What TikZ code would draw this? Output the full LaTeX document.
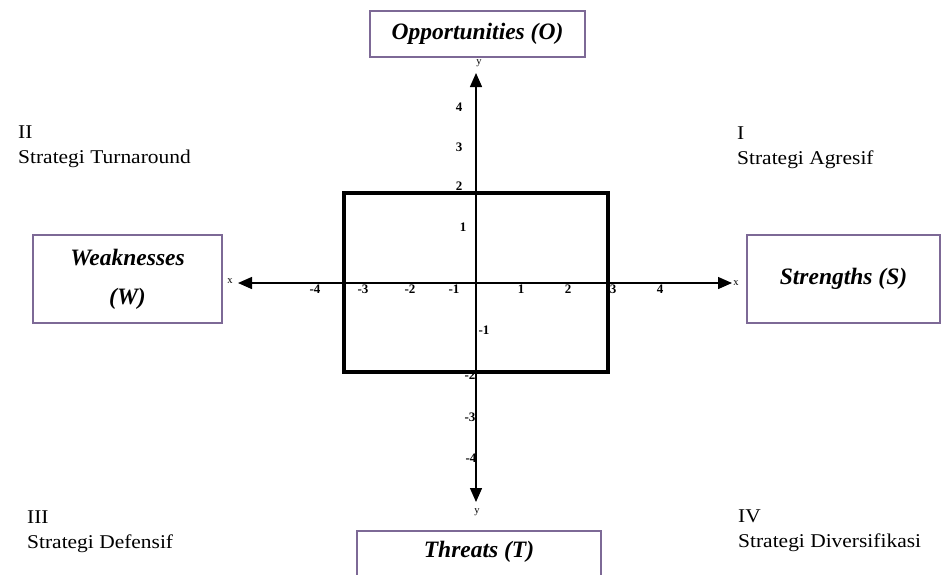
\documentclass[tikz,border=0pt]{standalone}
\usepackage{fontspec}
\setmainfont{Liberation Serif}
\newfontfamily\quadfont[FakeStretch=1.1]{Liberation Serif}
\usetikzlibrary{arrows.meta}
\definecolor{boxline}{RGB}{125,105,150}

\begin{document}
\begin{tikzpicture}[x=1pt,y=-1pt,>={Triangle[length=14pt,width=12pt]},
  factor/.style={draw=boxline,line width=2.2pt,inner sep=0pt,align=center,
    font=\fontsize{23.5}{27}\selectfont\bfseries\itshape},
  quad/.style={anchor=north west,inner sep=0pt,align=left,
    font=\fontsize{19.5}{25}\selectfont\quadfont},
  tick/.style={inner sep=0pt,font=\fontsize{13}{14}\selectfont\bfseries},
  axlabel/.style={inner sep=0pt,font=\fontsize{10.5}{11}\selectfont},
  axis/.style={line width=1.4pt}]
  \useasboundingbox (0,0) rectangle (941,574);
  \clip (0,0) rectangle (941,574);
  % axes
  \coordinate (xl) at (238,283);
  \coordinate (xr) at (732,283);
  \coordinate (yt) at (476,73);
  \coordinate (yb) at (476,502);
  \draw[axis,<->] (xl) -- (xr);
  \draw[axis,<->] (yb) -- (yt);
  \node[axlabel] (xlab) at (230,281) {x};
  \node[axlabel] (xrab) at (736,283) {x};
  \node[axlabel] (ytab) at (479,63) {y};
  \node[axlabel] (ybab) at (477,512) {y};
  % scale numbers
  \foreach \v/\px in {-4/315,-3/363,-2/410,-1/454,1/521,2/568,3/613,4/660}
    \node[tick] (tx\v) at (\px,289) {\v};
  \foreach \v/\px/\py in {4/459/107,3/459/147,2/459/186,1/463/227,-1/484/330,-2/470/375,-3/470/417,-4/471/458}
    \node[tick] (ty\v) at (\px,\py) {\v};
  % position frame
  \draw[line width=3.8pt] (344,193) rectangle (608,372);
  % SWOT factors
  \node[factor,minimum width=215,minimum height=46] (opp) at (477.5,34) {Opportunities (O)};
  \node[factor,minimum width=189,minimum height=88] (weak) at (127.5,279) {Weaknesses\\[12pt](W)};
  \node[factor,minimum width=193,minimum height=88] (str) at (843.5,279) {Strengths (S)};
  \node[factor,anchor=north,minimum width=244,text height=26pt,text depth=40pt] (thr) at (479,530) {Threats (T)};
  % strategies
  \node[quad] (q1) at (737,127) {I\\Strategi Agresif};
  \node[quad] (q2) at (18,126) {II\\Strategi Turnaround};
  \node[quad] (q3) at (27,511) {III\\Strategi Defensif};
  \node[quad] (q4) at (738,510) {IV\\Strategi Diversifikasi};
\end{tikzpicture}
\end{document}
